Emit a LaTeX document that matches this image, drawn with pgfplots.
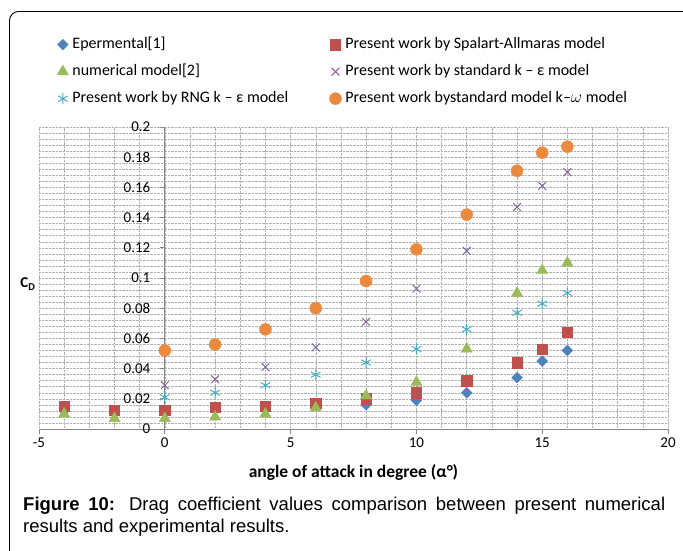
\documentclass[border=0pt]{standalone}
\usepackage{fontspec}
\setmainfont{Carlito}
\newfontfamily\arial{Liberation Sans}
\usepackage{pgfplots}
\pgfplotsset{compat=1.18}
\definecolor{cBlue}{HTML}{4F81BD}
\definecolor{cRed}{HTML}{C0504D}
\definecolor{cGreen}{HTML}{9BBB59}
\definecolor{cPurple}{HTML}{8064A2}
\definecolor{cCyan}{HTML}{4BACC6}
\definecolor{cOrange}{HTML}{EB8A3E}
\definecolor{axisgray}{HTML}{868686}
\definecolor{gridgray}{HTML}{B0B0B0}
\begin{document}
\begin{tikzpicture}[x=1pt,y=1pt]
\useasboundingbox (0,0) rectangle (683,550);
\draw[line width=0.9pt, rounded corners=9pt] (9.5,-5) -- (9.5,538.5) -- (695,538.5);
\begin{axis}[
  at={(39pt,121pt)}, anchor=south west,
  scale only axis, width=629pt, height=302pt,
  xmin=-5, xmax=20, ymin=0, ymax=0.2,
  clip=false,
  axis lines=middle,
  axis line style={-, draw=axisgray, line width=0.9pt},
  xtick={-5,0,5,10,15,20},
  ytick={0,0.02,0.04,0.06,0.08,0.1,0.12,0.14,0.16,0.18,0.2},
  minor x tick num=4, minor y tick num=4,
  grid=both,
  major grid style={draw=gridgray, densely dotted, line width=0.6pt},
  minor grid style={draw=gridgray, densely dotted, line width=0.5pt},
  tick align=outside, major tick length=5pt, minor tick length=0pt,
  tick style={draw=axisgray, line width=0.9pt},
  hide obscured x ticks=false, hide obscured y ticks=false,
  scaled y ticks=false,
  /pgf/number format/assume math mode=true,
  yticklabel style={/pgf/number format/fixed, /pgf/number format/precision=2, font=\fontsize{15}{15}\selectfont, xshift=-6pt},
  xticklabel style={font=\fontsize{15}{15}\selectfont},
  xlabel={\textbf{angle of attack in degree (α°)}},
  every axis x label/.style={at={(rel axis cs:0.5,0)}, anchor=north, yshift=-32pt, font=\fontsize{17.5}{17.5}\selectfont},
  ylabel={\textbf{C\textsubscript{D}}},
  every axis y label/.style={at={(rel axis cs:0,0.48)}, anchor=east, xshift=0pt, font=\fontsize{15}{15}\selectfont},
  legend columns=2,
  legend cell align=left,
  legend style={at={(axis description cs:0.0286,1.304)}, anchor=north west, draw=none, fill=none, inner sep=0pt,
    font=\fontsize{16}{17}\selectfont, row sep=8.5pt,
    nodes={inner xsep=4pt, inner ysep=2pt, text height=11pt, text depth=3.5pt}},
  legend image code/.code={\draw[mark repeat=1,mark phase=1,#1] plot coordinates {(0pt,0pt)};},
]
\addplot[only marks, mark=square*, mark size=3.8pt, mark options={rotate=45, fill=cBlue, draw=cBlue}]
 coordinates {(-4,0.012)(8,0.016)(10,0.019)(12,0.024)(14,0.034)(15,0.045)(16,0.052)};
\addlegendentry{\makebox[253pt][l]{Epermental[1]}}
\addplot[only marks, mark=square*, mark size=5.2pt, mark options={fill=cRed, draw=cRed}]
 coordinates {(-4,0.015)(-2,0.0125)(0,0.0125)(2,0.0145)(4,0.015)(6,0.017)(8,0.020)(10,0.024)(12,0.032)(14,0.044)(15,0.053)(16,0.064)};
\addlegendentry{Present work by Spalart-Allmaras model}
\addplot[only marks, mark=triangle*, mark size=6.5pt, mark options={fill=cGreen, draw=cGreen}]
 coordinates {(-4,0.010)(-2,0.007)(0,0.007)(2,0.008)(4,0.010)(6,0.014)(8,0.022)(10,0.031)(12,0.053)(14,0.090)(15,0.105)(16,0.110)};
\addlegendentry{\makebox[253pt][l]{numerical model[2]}}
\addplot[only marks, mark=x, mark size=5.5pt, mark options={draw=cPurple, line width=1pt}]
 coordinates {(0,0.029)(2,0.033)(4,0.041)(6,0.054)(8,0.071)(10,0.093)(12,0.118)(14,0.147)(15,0.161)(16,0.170)};
\addlegendentry{Present work by standard k – ε model}
\addplot[only marks, mark=asterisk, mark size=5.5pt, mark options={draw=cCyan, line width=1pt}]
 coordinates {(0,0.021)(2,0.024)(4,0.029)(6,0.036)(8,0.044)(10,0.053)(12,0.066)(14,0.077)(15,0.083)(16,0.090)};
\addlegendentry{\makebox[253pt][l]{Present work by RNG k – ε model}}
\addplot[only marks, mark=*, mark size=6pt, mark options={fill=cOrange, draw=cOrange}]
 coordinates {(0,0.052)(2,0.056)(4,0.066)(6,0.080)(8,0.098)(10,0.119)(12,0.142)(14,0.171)(15,0.183)(16,0.187)};
\addlegendentry{Present work bystandard model k–$\omega$ model}
\end{axis}
\node[anchor=north west, inner sep=0pt, text width=642pt, align=justify, font=\arial\fontsize{18.5}{22}\selectfont] at (23,53)
 {\textbf{Figure 10:} Drag coefficient values comparison between present numerical\linebreak results and experimental results.};
\end{tikzpicture}
\end{document}
